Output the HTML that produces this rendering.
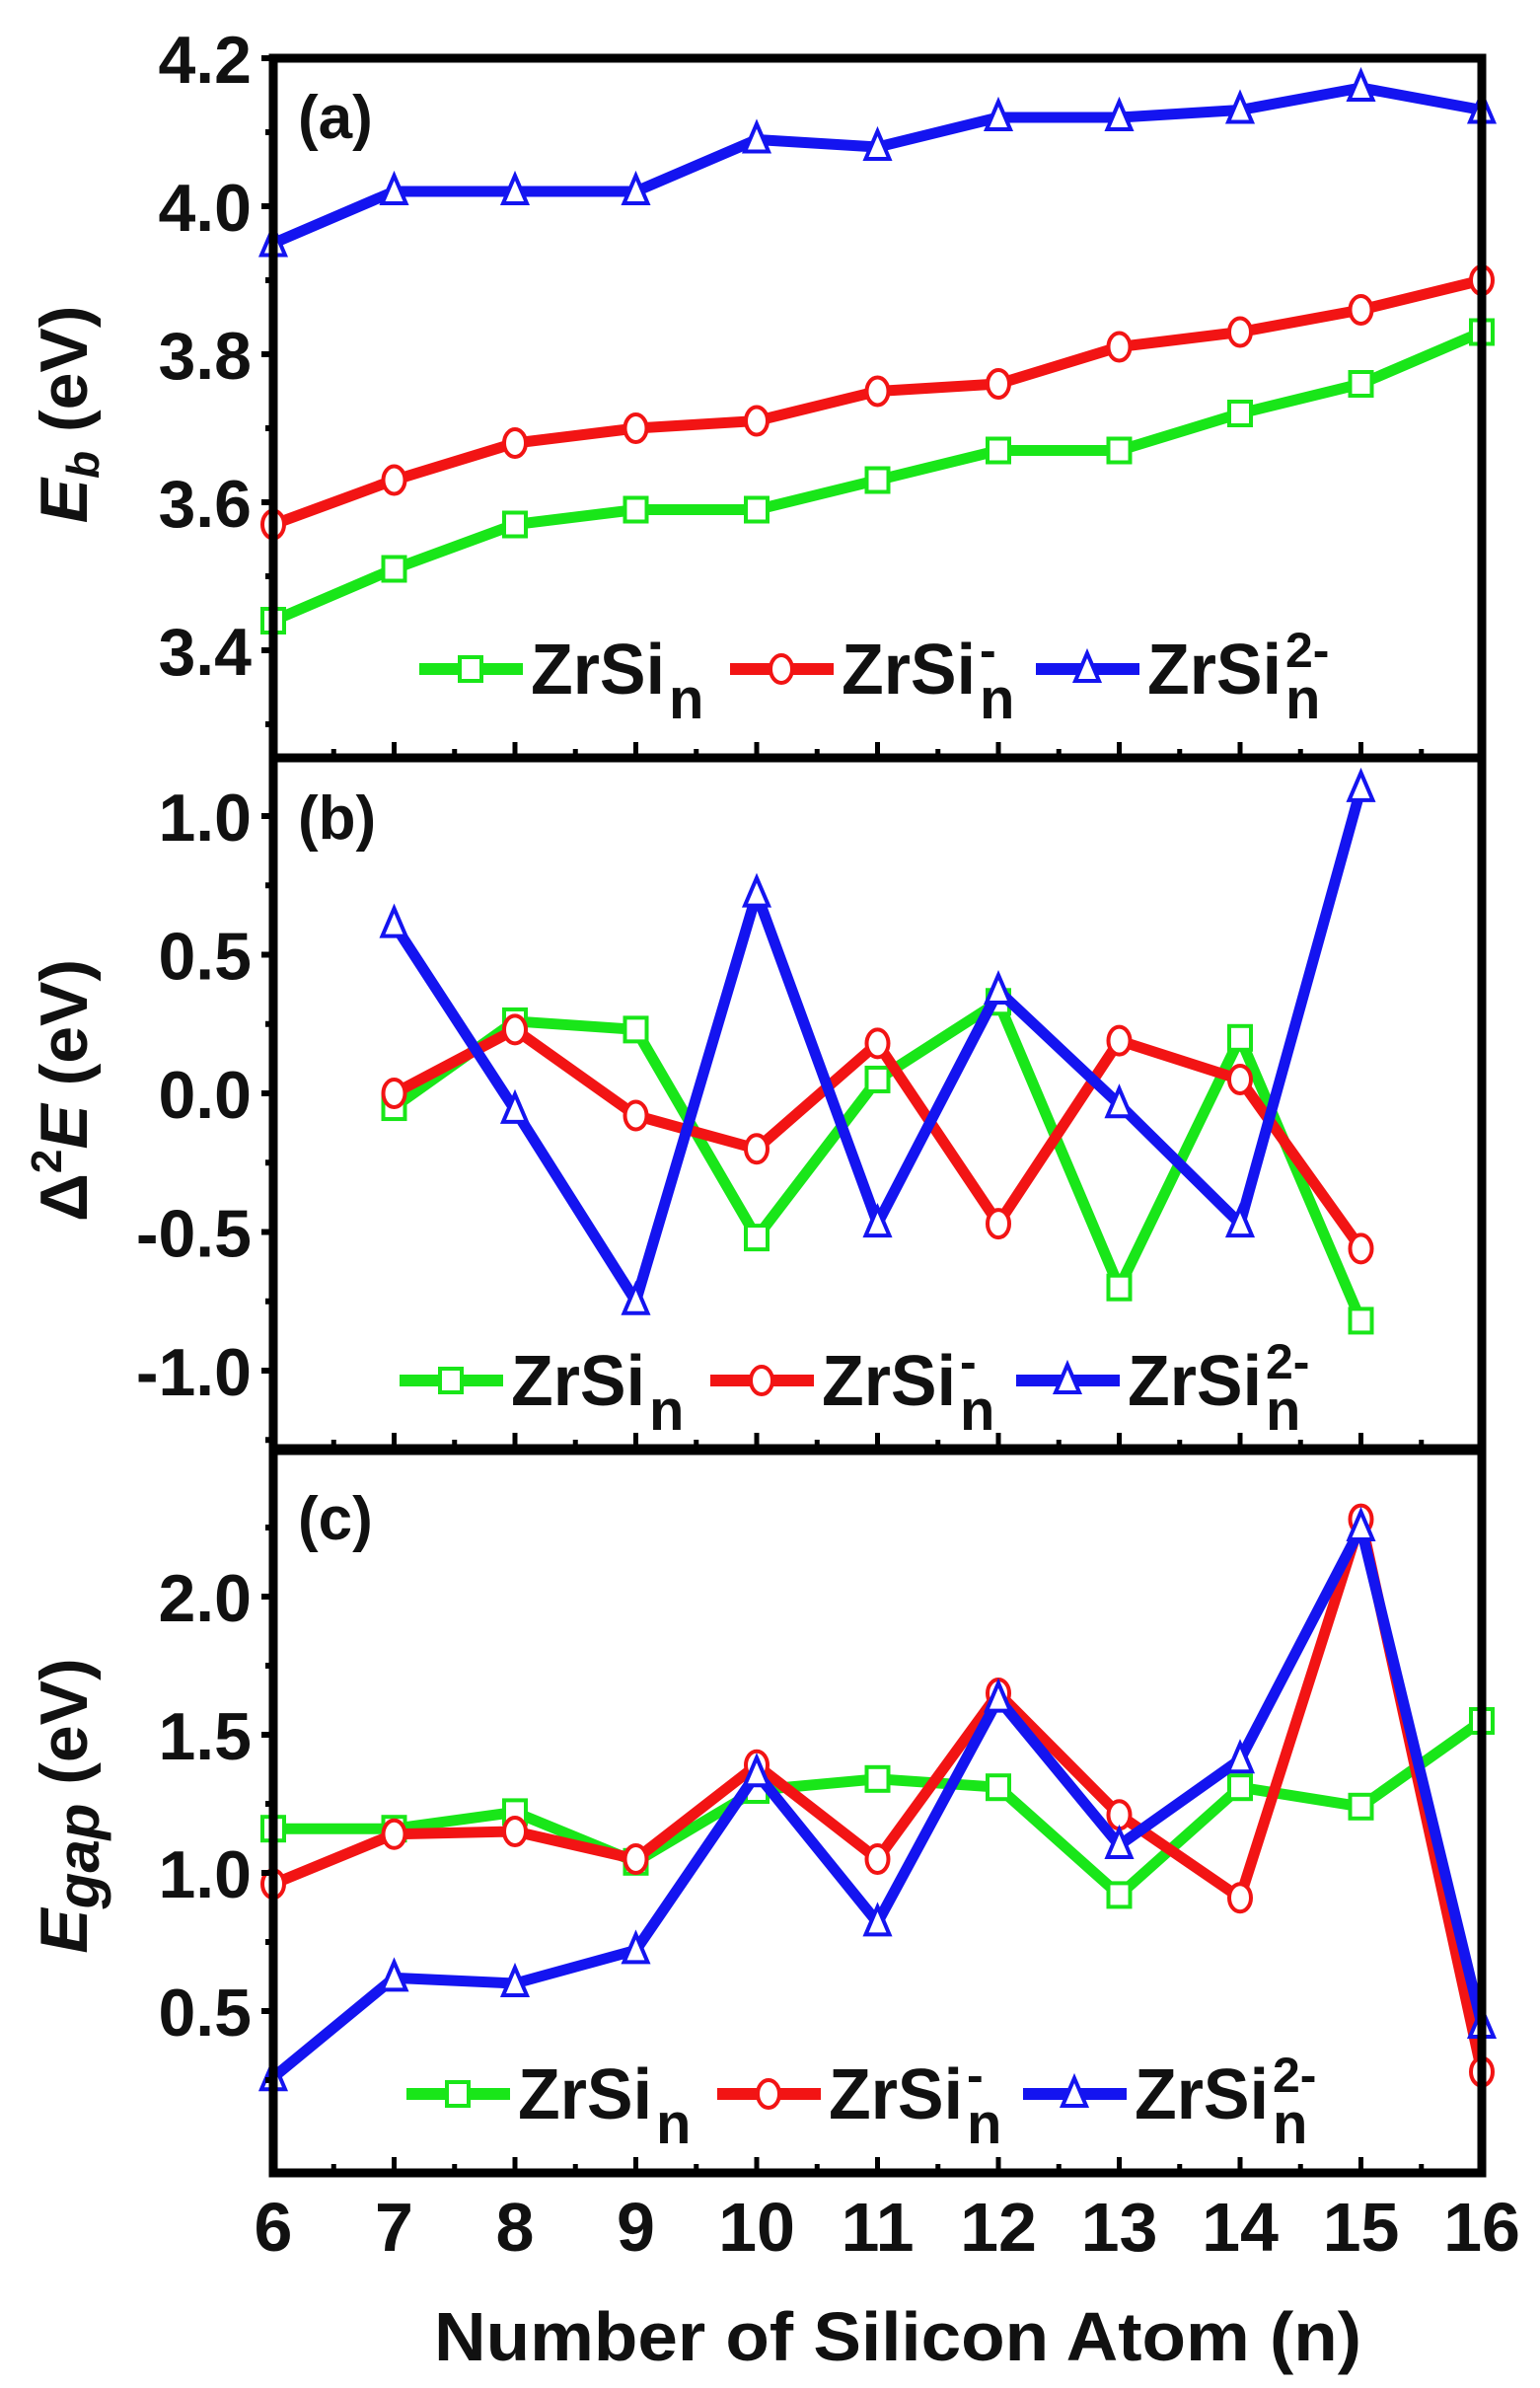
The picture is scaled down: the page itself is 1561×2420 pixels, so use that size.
<!DOCTYPE html>
<html><head><meta charset="utf-8"><style>
html,body{margin:0;padding:0;background:#fff}
svg{display:block}
text{font-family:"Liberation Sans",Arial,sans-serif;font-weight:bold;fill:#111}
</style></head><body>
<svg id="chart" width="1561" height="2420" viewBox="0 0 1561 2420" xmlns="http://www.w3.org/2000/svg"></svg>
<script>
const nAll = [6,7,8,9,10,11,12,13,14,15,16];
const nMid = [7,8,9,10,11,12,13,14,15];
const ebNeutral = [3.44,3.51,3.57,3.59,3.59,3.63,3.67,3.67,3.72,3.76,3.83];
const ebAnion = [3.57,3.63,3.68,3.70,3.71,3.75,3.76,3.81,3.83,3.86,3.90];
const ebDianion = [3.95,4.02,4.02,4.02,4.09,4.08,4.12,4.12,4.13,4.16,4.13];
const d2Neutral = [-0.05,0.26,0.23,-0.52,0.05,0.33,-0.70,0.20,-0.82];
const d2Anion = [0.0,0.23,-0.08,-0.20,0.18,-0.47,0.19,0.05,-0.56];
const d2Dianion = [0.61,-0.06,-0.75,0.72,-0.47,0.37,-0.04,-0.47,1.10];
const gapNeutral = [1.16,1.16,1.22,1.04,1.30,1.34,1.31,0.92,1.31,1.24,1.55];
const gapAnion = [0.96,1.14,1.15,1.05,1.39,1.05,1.65,1.21,0.91,2.28,0.28];
const gapDianion = [0.26,0.62,0.60,0.72,1.36,0.82,1.63,1.10,1.41,2.25,0.45];
const ticksA = [3.4,3.6,3.8,4.0,4.2];
const ticksB = [-1.0,-0.5,0.0,0.5,1.0];
const ticksC = [0.5,1.0,1.5,2.0];
const xTicks = [6,7,8,9,10,11,12,13,14,15,16];

const NS="http://www.w3.org/2000/svg";
const svg=document.getElementById('chart');
function mk(tag,attrs,parent){const e=document.createElementNS(NS,tag);for(const k in attrs)e.setAttribute(k,attrs[k]);(parent||svg).appendChild(e);return e;}
const L=277,R=1502;
const xs=v=>L+(v-6)*(R-L)/10;
const panels=[
 {id:'a',top:59,bot:768,y:v=>59+(4.2-v)*750,ticks:ticksA,xs:nAll,series:[ebNeutral,ebAnion,ebDianion],leg:678,lx:425,lab:'(a)',ly:140},
 {id:'b',top:768,bot:1468,y:v=>1108-v*281,ticks:ticksB,xs:nMid,series:[d2Neutral,d2Anion,d2Dianion],leg:1399,lx:405,lab:'(b)',ly:850},
 {id:'c',top:1470,bot:2202,y:v=>1898-(v-1.0)*280,ticks:ticksC,xs:nAll,series:[gapNeutral,gapAnion,gapDianion],leg:2122,lx:412,lab:'(c)',ly:1560}
];
const colors=['#19e619','#f21414','#1414f0'];
const names=['neutral','anion','dianion'];
function marker(g,k,x,y,c){
  let m;
  if(k===0){m=mk('rect',{x:x-11,y:y-12,width:22,height:24,fill:'#fff',stroke:c,'stroke-width':4},g);}
  else if(k===1){m=mk('ellipse',{cx:x,cy:y,rx:11,ry:14,fill:'#fff',stroke:c,'stroke-width':4},g);}
  else {m=mk('path',{d:`M${x} ${y-16}L${x+12} ${y+12}L${x-12} ${y+12}Z`,fill:'#fff',stroke:c,'stroke-width':4},g);}
  return m;
}
panels.forEach(p=>{
  const g=mk('g',{});
  
  
  p.series.forEach((arr,k)=>{
    const sg=mk('g',{},g);
    
    
    const pts=arr.map((v,i)=>xs(p.xs[i])+','+p.y(v)).join(' ');
    mk('polyline',{points:pts,fill:'none',stroke:colors[k],'stroke-width':11,'stroke-linejoin':'round'},sg);
    arr.forEach((v,i)=>{
      const m=marker(sg,k,xs(p.xs[i]),p.y(v),colors[k]);
      
      
    });
  });
  const fr=mk('rect',{x:L,y:p.top,width:R-L,height:p.bot-p.top,fill:'none',stroke:'#000','stroke-width':9},g);
  
  
  for(let v=6;v<=16;v+=0.5){
    const len=(v%1===0)?16:9;
    mk('line',{x1:xs(v),x2:xs(v),y1:p.bot,y2:p.bot-len,stroke:'#000','stroke-width':5},g);
  }
  p.ticks.forEach(t=>{
    const y=p.y(t);
    mk('line',{x1:L-12,x2:L,y1:y,y2:y,stroke:'#000','stroke-width':6},g);
    const tx=mk('text',{x:L-22,y:y+25,'text-anchor':'end','font-size':68},g);
    tx.textContent=t.toFixed(1);
    
    
  });
  for(let i=0;i<p.ticks.length+1;i++){
    const t=p.ticks[0]+(i-0.5)*(p.ticks[1]-p.ticks[0]);
    const y=p.y(t); if(y>p.top+5&&y<p.bot-5) mk('line',{x1:L-8,x2:L,y1:y,y2:y,stroke:'#000','stroke-width':6},g);
  }
  const pl=mk('text',{x:302,y:p.ly,'font-size':62},g);
  pl.textContent=p.lab;
  
  
  const lg=mk('g',{},g);
  
  
  const offs=[0,315,625];
  const sups=['','-','2-'];
  offs.forEach((o,k)=>{
    const x0=p.lx+o;
    const e=mk('g',{},lg);
    
    
    mk('line',{x1:x0,x2:x0+105,y1:p.leg,y2:p.leg,stroke:colors[k],'stroke-width':12},e);
    marker(e,k,x0+52,p.leg,colors[k]);
    const t=mk('text',{x:x0+113,y:p.leg+25,'font-size':72,textLength:136,lengthAdjust:'spacingAndGlyphs'},e);
    t.textContent='ZrSi';
    const s=mk('text',{x:x0+253,y:p.leg+50,'font-size':58},e);
    s.textContent='n';
    if(sups[k]){const u=mk('text',{x:x0+253,y:p.leg-2,'font-size':50},e);u.textContent=sups[k];}
  });
});
xTicks.forEach(v=>{
  const t=mk('text',{x:xs(v),y:2281,'text-anchor':'middle','font-size':70});
  t.textContent=v;
  
  
});
const xt=mk('text',{x:910,y:2392,'text-anchor':'middle','font-size':70,textLength:940,lengthAdjust:'spacingAndGlyphs'});
xt.textContent='Number of Silicon Atom (n)';


function ytitle(cy,parts,name){
  const t=mk('text',{transform:`translate(88 ${cy}) rotate(-90)`,'text-anchor':'middle','font-size':68});
  
  
  parts.forEach(p=>{const s=mk('tspan',p.a||{},t);s.textContent=p.t;});
}
ytitle(420,[{t:'E',a:{'font-style':'italic'}},{t:'b',a:{'font-style':'italic','font-size':46,dy:12}},{t:' (eV)',a:{dy:-12}}],'y-axis-title-a');
ytitle(1105,[{t:'Δ'},{t:'2',a:{'font-size':44,dy:-26}},{t:'E',a:{'font-style':'italic',dy:26}},{t:' (eV)'}],'y-axis-title-b');
ytitle(1830,[{t:'E',a:{'font-style':'italic'}},{t:'gap',a:{'font-style':'italic','font-size':60,dy:12}},{t:'  (eV)',a:{dy:-12}}],'y-axis-title-c');
</script>
</body></html>
